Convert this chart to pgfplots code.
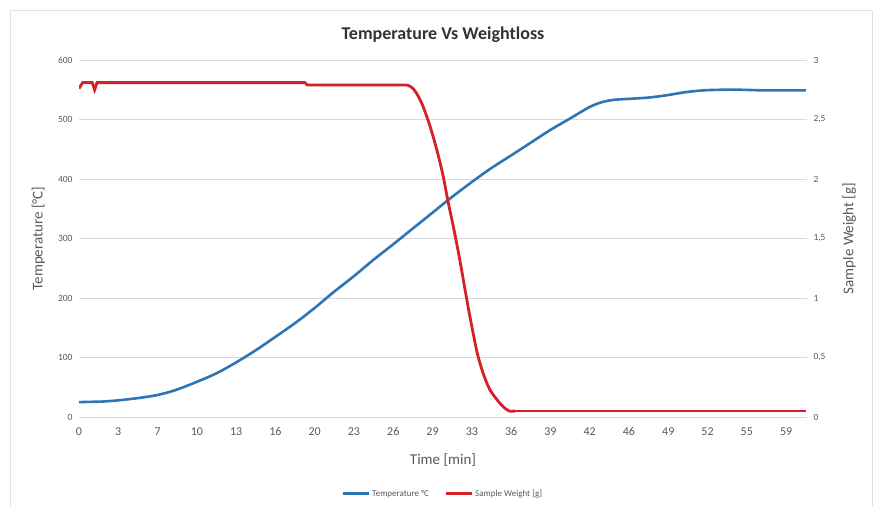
\documentclass[border=0pt]{standalone}
\usepackage{pgfplots}
\pgfplotsset{compat=1.18}
\usepackage{fontspec}
\setmainfont{Carlito}
\definecolor{tblue}{RGB}{46,117,182}
\definecolor{wred}{RGB}{214,32,40}
\definecolor{lbl}{RGB}{89,89,89}
\definecolor{grd}{RGB}{217,217,217}
\begin{document}
\begin{tikzpicture}
\pgfplotsset{
  common/.style={
    scale only axis, width=728pt, height=357pt,
    xmin=0, xmax=60.6,
    axis line style={draw=none},
    major tick length=0pt,
    tick label style={font=\fontsize{9.5}{10}\selectfont, text=lbl},
    /pgf/number format/assume math mode=true,
    label style={font=\fontsize{15}{17}\selectfont, text=lbl},
  }
}
\begin{axis}[common, name=main,
  ymin=0, ymax=600, ytick={0,100,...,600},
  ymajorgrids, grid style={grd, line width=0.8pt},
  xtick={0,3.27,6.54,9.81,13.08,16.35,19.62,22.89,26.16,29.43,32.7,35.97,39.24,42.51,45.78,49.05,52.32,55.59,58.86},
  xticklabels={0,3,7,10,13,16,20,23,26,29,33,36,39,42,46,49,52,55,59},
  xticklabel style={yshift=-7pt, font=\fontsize{12}{13}\selectfont},
  yticklabel style={xshift=-3pt},
  xlabel={Time [min]}, xlabel style={yshift=-11pt},
  ylabel={Temperature [°C]}, ylabel style={yshift=6pt},
  title={\bfseries Temperature Vs Weightloss},
  title style={font=\fontsize{18}{20}\selectfont, text=black!80, yshift=8pt},
]
\addplot[tblue, line width=2.6pt, smooth] coordinates {
(0,25) (1,25.5) (2,26) (3.27,28) (5,32) (6.54,37) (8,45) (9.8,59) (11.5,74) (13.1,92)
(14.7,112) (16.3,134) (18,158) (19.6,183) (21.2,210) (22.9,237) (24.5,264) (26.2,291)
(27.8,317) (29.4,343) (31,369) (32.7,395) (34.3,418) (36,440) (37.6,461) (39.2,482)
(40.9,502) (42.5,521) (43.5,529) (44.5,533) (46,535) (47.5,537) (49,541) (50.5,546)
(52,549) (53.5,550) (55,550) (57,549) (59,549) (60.5,549)};
\end{axis}
\begin{axis}[common,
  ymin=0, ymax=3, ytick={0,0.5,...,3},
  yticklabels={0,{0,5},1,{1,5},2,{2,5},3},
  axis y line*=right, xtick=\empty,
  yticklabel style={xshift=3pt},
  ylabel={Sample Weight [g]}, ylabel style={yshift=-10pt},
  legend style={at={(0.5,-0.215)}, anchor=center, draw=none, fill=none,
    legend columns=2, font=\fontsize{9}{10}\selectfont, text=lbl,
    /tikz/every even column/.append style={column sep=14pt}},
  legend image code/.code={\draw[#1, line width=2.6pt] (0cm,0cm) -- (0.9cm,0cm);},
]
\addlegendimage{tblue}
\addlegendentry{Temperature °C}
\addplot[wred, line width=2.8pt] coordinates {
(0,2.76) (0.3,2.81) (1.1,2.81) (1.3,2.75) (1.5,2.81) (18.8,2.81) (19,2.79) (27.3,2.79)};
\addlegendentry{Sample Weight [g]}
\addplot[wred, line width=2.8pt, smooth, forget plot] coordinates {
(27.3,2.79) (27.7,2.77) (28.1,2.72) (28.6,2.62) (29.2,2.45) (29.8,2.24) (30.3,2.03) (30.7,1.82)
(31.2,1.58) (31.7,1.32) (32.4,0.92) (33.1,0.56) (33.6,0.38) (34.2,0.23) (35,0.12)
(35.5,0.07) (35.8,0.05) (36.3,0.05)};
\addplot[wred, line width=2.8pt, forget plot] coordinates {(36.3,0.05) (60.5,0.05)};
\end{axis}
\path[use as bounding box] ([shift={(-79pt,-89pt)}]main.south west) rectangle ([shift={(796pt,417pt)}]main.south west);
\draw[gray!25, line width=0.8pt] ([shift={(-69pt,-89pt)}]main.south west) -- ([shift={(-69pt,407pt)}]main.south west) -- ([shift={(793pt,407pt)}]main.south west) -- ([shift={(793pt,-89pt)}]main.south west);
\end{tikzpicture}
\end{document}
